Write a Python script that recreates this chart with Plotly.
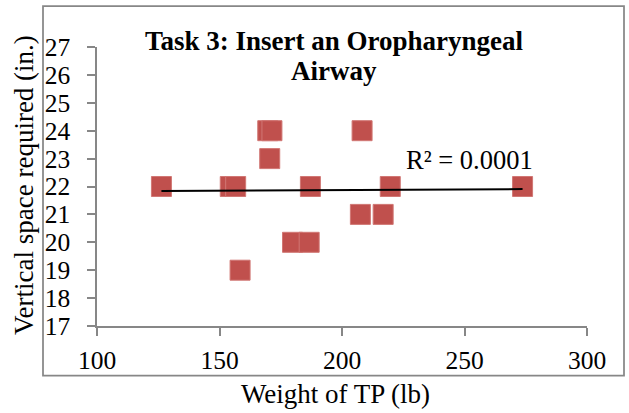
import numpy as np
import plotly.graph_objects as go

# Weight of test participant (lb) and vertical space required (in.)
weight_lb = [126.3, 154.4, 156.6, 169.7, 171.4, 170.5, 187.1, 179.8,
             186.6, 158.4, 208.2, 219.7, 273.7, 207.5, 216.8]
space_in = [22, 22, 22, 24, 24, 23, 22, 20,
            20, 19, 24, 22, 22, 21, 21]

x_ticks = [100, 150, 200, 250, 300]
y_ticks = [17, 18, 19, 20, 21, 22, 23, 24, 25, 26, 27]

title_lines = ["Task 3: Insert an Oropharyngeal", "Airway"]
r2_label = "R² = 0.0001"

# linear trend over the observed weight span
slope, intercept = np.polyfit(weight_lb, space_in, 1)
trend_x = [min(weight_lb), max(weight_lb)]
trend_y = [slope * v + intercept for v in trend_x]

W, H = 629, 413
L, R, T, B = 97, 587, 47, 326   # plot area in pixels

def px_x(p):
    return (p - L) / (R - L)

def px_y(p):
    return (B - p) / (B - T)

SERIF = "Liberation Serif"
GRAY = "#878787"

fig = go.Figure()
fig.add_trace(go.Scatter(
    x=weight_lb, y=space_in, mode="markers",
    marker=dict(symbol="square", size=20, color="#C0504D",
                line=dict(color="#D17774", width=1)),
    showlegend=False, hoverinfo="skip",
))
fig.add_trace(go.Scatter(
    x=trend_x, y=trend_y, mode="lines",
    line=dict(color="black", width=2),
    showlegend=False, hoverinfo="skip",
))

fig.update_layout(
    width=W, height=H,
    margin=dict(l=L, r=W - R, t=T, b=H - B),
    paper_bgcolor="white", plot_bgcolor="white",
    font=dict(family=SERIF, size=25, color="black"),
    xaxis=dict(
        range=[100, 300], tickvals=x_ticks, ticktext=[str(v) for v in x_ticks],
        showgrid=False, zeroline=False,
        showline=True, linecolor=GRAY, linewidth=1.5,
        ticks="outside", ticklen=8, tickcolor=GRAY, tickwidth=1.5,
        tickfont=dict(family=SERIF, size=25.5, color="black"),
        ticklabelstandoff=3,
    ),
    yaxis=dict(
        range=[17, 27], tickvals=y_ticks, ticktext=[str(v) for v in y_ticks],
        showgrid=False, zeroline=False,
        showline=True, linecolor=GRAY, linewidth=1.5,
        ticks="outside", ticklen=8, tickcolor=GRAY, tickwidth=1.5,
        tickfont=dict(family=SERIF, size=25.5, color="black"),
        ticklabelstandoff=12,
    ),
    shapes=[dict(
        type="rect", xref="paper", yref="paper",
        x0=px_x(43), x1=px_x(624), y0=px_y(375.5), y1=px_y(6),
        line=dict(color=GRAY, width=1.75), fillcolor="rgba(0,0,0,0)",
        layer="below",
    )],
    annotations=[
        dict(text="<b>" + title_lines[0] + "</b>", xref="paper", yref="paper",
             x=px_x(334), y=px_y(58), xanchor="center", yanchor="bottom",
             showarrow=False, font=dict(family=SERIF, size=27, color="black")),
        dict(text="<b>" + title_lines[1] + "</b>", xref="paper", yref="paper",
             x=px_x(334), y=px_y(88), xanchor="center", yanchor="bottom",
             showarrow=False, font=dict(family=SERIF, size=27, color="black")),
        dict(text=r2_label, xref="paper", yref="paper",
             x=px_x(404), y=px_y(177), xanchor="left", yanchor="bottom",
             showarrow=False, font=dict(family=SERIF, size=26.5, color="black")),
        dict(text="Weight of TP (lb)", xref="paper", yref="paper",
             x=px_x(335.5), y=px_y(411), xanchor="center", yanchor="bottom",
             showarrow=False, font=dict(family=SERIF, size=27, color="black")),
        dict(text="Vertical space required (in.)", xref="paper", yref="paper",
             x=px_x(24), y=px_y(185), xanchor="center", yanchor="middle",
             textangle=-90, showarrow=False,
             font=dict(family=SERIF, size=27, color="black")),
    ],
)

fig.write_html("out.html")
